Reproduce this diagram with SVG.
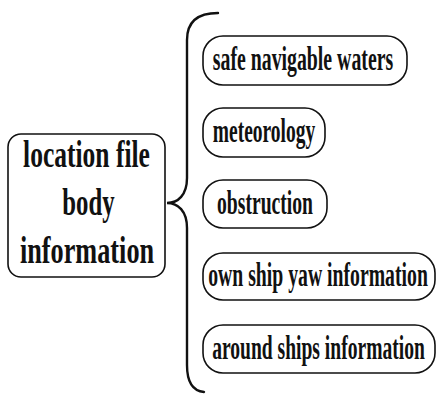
<svg xmlns="http://www.w3.org/2000/svg" width="437" height="394" viewBox="0 0 437 394">
<style>
.box{fill:#fff;stroke:#111;stroke-width:1.6}
.main{font-family:"Liberation Serif","Times New Roman",serif;font-weight:bold;font-size:37px;fill:#111;text-anchor:middle}
.lbl{font-family:"Liberation Serif","Times New Roman",serif;font-weight:bold;font-size:33px;fill:#111;text-anchor:middle}
.brace{fill:none;stroke:#111;stroke-width:2.4;stroke-linecap:round}
</style>
<rect width="437" height="394" fill="#fff"/>
<g id="connectors">
<path class="brace" d="M218,13 C198,13 187,22 187,40 L187,178 C187,195 178,203 167,203 C178,203 187,211 187,228 L187,365 C187,382 193,391 204,392"/>
</g>
<g id="main">
<rect class="box" x="8" y="134" width="157" height="143" rx="13"/>
<text class="main" transform="translate(86.5,167) scale(0.69,1)">location file</text>
<text class="main" transform="translate(88.5,215) scale(0.67,1)">body</text>
<text class="main" transform="translate(87,263) scale(0.71,1)">information</text>
</g>
<g id="n1">
<rect class="box" x="203" y="36" width="204" height="49" rx="20"/>
<text class="lbl" transform="translate(303,70) scale(0.6,1)">safe navigable waters</text>
</g>
<g id="n2">
<rect class="box" x="203" y="108" width="122" height="49" rx="20"/>
<text class="lbl" transform="translate(264,142) scale(0.59,1)">meteorology</text>
</g>
<g id="n3">
<rect class="box" x="203" y="180" width="124" height="48" rx="20"/>
<text class="lbl" transform="translate(265,214) scale(0.595,1)">obstruction</text>
</g>
<g id="n4">
<rect class="box" x="203" y="253" width="232" height="47" rx="20"/>
<text class="lbl" transform="translate(318,286) scale(0.598,1)">own ship yaw information</text>
</g>
<g id="n5">
<rect class="box" x="203" y="325" width="232" height="48" rx="20"/>
<text class="lbl" transform="translate(318.5,359) scale(0.593,1)">around ships information</text>
</g>
</svg>
